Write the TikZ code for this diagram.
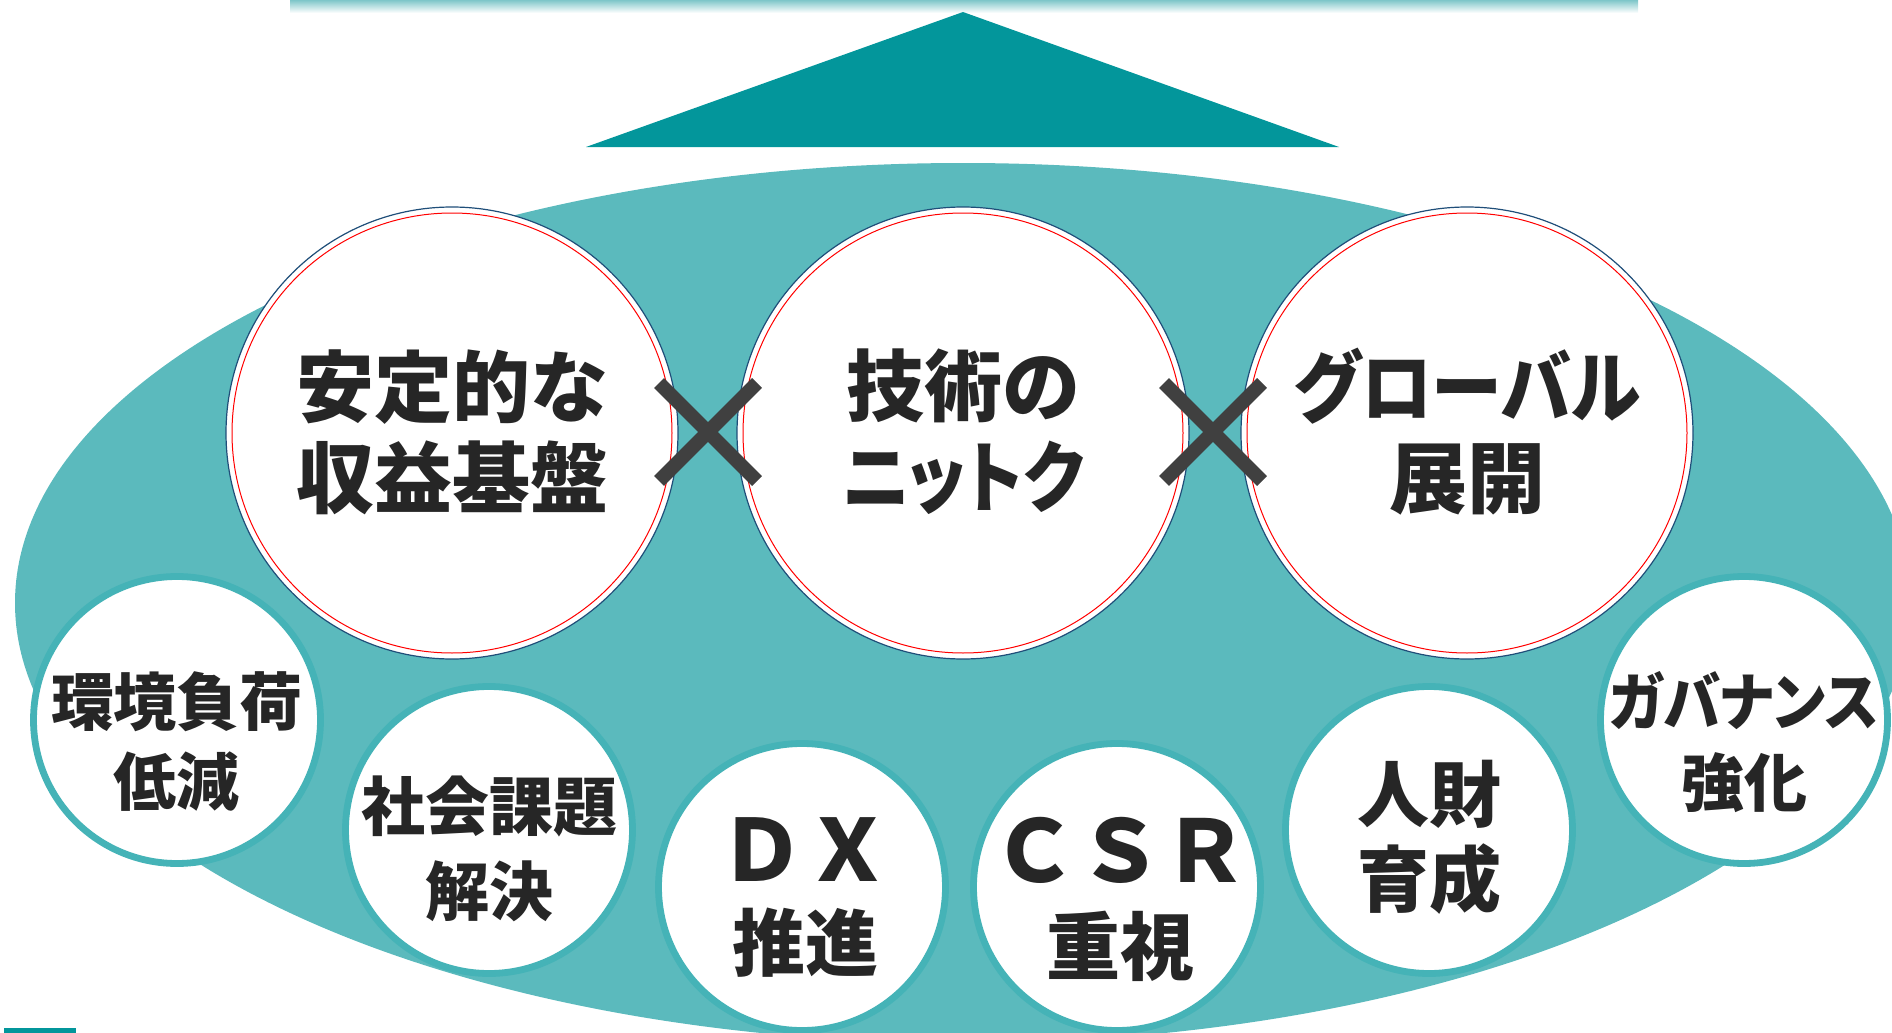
\documentclass[tikz,border=0pt]{standalone}
\usepackage{fontspec}
\newfontfamily\jp[RawFeature=+palt]{Noto Sans CJK JP}
\newfontfamily\jpf{Noto Sans CJK JP}
\definecolor{ellcol}{HTML}{5BBABD}
\definecolor{tricol}{HTML}{03969B}
\definecolor{ringcol}{HTML}{45B3B7}
\definecolor{bluecol}{HTML}{1F4E79}
\definecolor{txtcol}{HTML}{262626}
\definecolor{xcol}{HTML}{404040}
\definecolor{shadcol}{HTML}{7EC6C9}
\tikzset{
  bigcirc/.style={circle, fill=white, draw=bluecol, line width=0.6pt, minimum size=226pt, inner sep=0pt},
  redring/.style={draw=red, line width=0.5pt},
  smallcirc/.style={circle, fill=white, draw=ringcol, line width=3.4pt, minimum size=143.5pt, inner sep=0pt},
  crossmark/.style={draw=xcol, line width=7pt, line cap=butt},
  bigtxt/.style={text=txtcol, align=center, inner sep=0pt, font=\jp\bfseries\fontsize{39pt}{45.5pt}\selectfont},
  smtxt/.style={text=txtcol, align=center, inner sep=0pt, font=\jp\bfseries\fontsize{31.5pt}{40pt}\selectfont},
}
\begin{document}
\begin{tikzpicture}[x=0.5pt, y=-0.5pt]
\useasboundingbox (0,0) rectangle (1892,1033);
\clip (0,0) rectangle (1892,1033);
% top shadow bar
\shade[top color=shadcol, bottom color=white] (290,0) rectangle (1638,13);
% triangle
\fill[tricol] (586,147) -- (963,12) -- (1339,147) -- cycle;
% big ellipse
\fill[ellcol] (963,603) ellipse [x radius=474pt, y radius=220pt];
% bottom-left bar
\fill[tricol] (4,1028) rectangle (76,1033);
% big circles
\node[bigcirc] (c1) at (452,433) {};
\node[bigcirc] (c2) at (963,433) {};
\node[bigcirc] (c3) at (1467,433) {};
\draw[redring] (c1.center) circle[radius=110pt];
\draw[redring] (c2.center) circle[radius=110pt];
\draw[redring] (c3.center) circle[radius=110pt];
\node[bigtxt] (t1) at (452,432) {安定的な\\収益基盤};
\node[bigtxt] (t2) at (963,432) {技術の\\\scalebox{0.87}[1]{ニットク}};
\node[bigtxt] (t3) at (1467,432) {\scalebox{0.91}[1]{グローバル}\\展開};
% crosses
\coordinate (x1) at (708,432);
\coordinate (x2) at (1213,432);
\draw[crossmark] ([shift={(-49,-49)}]x1) -- ([shift={(49,49)}]x1);
\draw[crossmark] ([shift={(-49,49)}]x1) -- ([shift={(49,-49)}]x1);
\draw[crossmark] ([shift={(-49,-49)}]x2) -- ([shift={(49,49)}]x2);
\draw[crossmark] ([shift={(-49,49)}]x2) -- ([shift={(49,-49)}]x2);
% small circles
\node[smallcirc] (s1) at (177,720) {};
\node[smallcirc] (s2) at (489,830) {};
\node[smallcirc] (s3) at (802,887) {};
\node[smallcirc] (s4) at (1117,887) {};
\node[smallcirc] (s5) at (1429,830) {};
\node[smallcirc] (s6) at (1744,720) {};
\node[smtxt] (st1) at (177,742) {環境負荷\\低減};
\node[smtxt, font=\jp\bfseries\fontsize{32pt}{42.5pt}\selectfont] (st2) at (489,849) {社会課題\\解決};
\node[smtxt, font=\jpf\bfseries\fontsize{36.5pt}{44.5pt}\selectfont] (st3) at (805,897) {\scalebox{1.17}{ＤＸ}\\推進};
\node[smtxt, font=\jpf\bfseries\fontsize{37pt}{46pt}\selectfont] (st4) at (1120,899) {\scalebox{1.16}{ＣＳＲ}\\重視};
\node[smtxt, font=\jp\bfseries\fontsize{36pt}{42.5pt}\selectfont] (st5) at (1429,837) {人財\\育成};
\node[smtxt, font=\jp\bfseries\fontsize{31.5pt}{40.5pt}\selectfont] (st6) at (1744,742) {\scalebox{0.91}[1]{ガバナンス}\\強化};
\end{tikzpicture}
\end{document}
